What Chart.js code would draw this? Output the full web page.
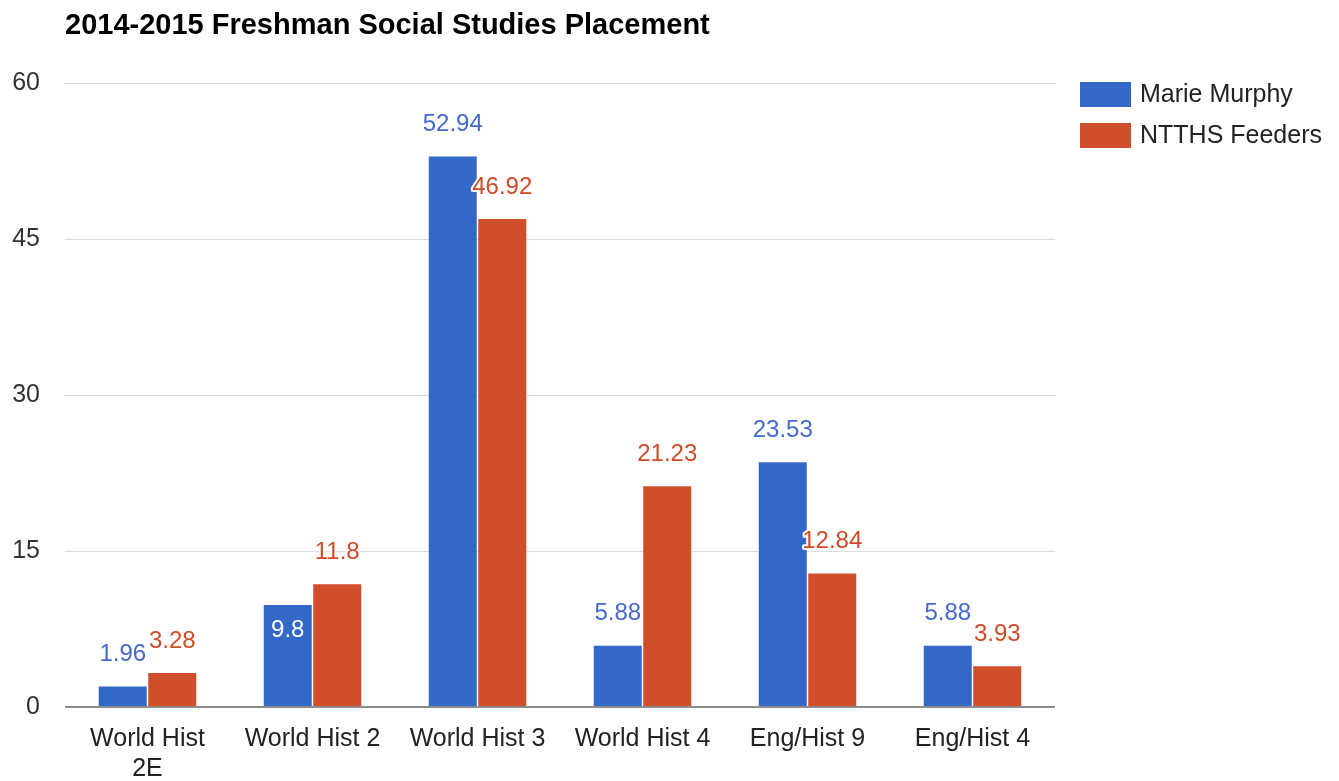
<!DOCTYPE html>
<html>
<head>
<meta charset="utf-8">
<script src="https://cdn.jsdelivr.net/npm/chart.js@4/dist/chart.umd.min.js"></script>
<style>
  html, body { margin: 0; padding: 0; background: #fff; }
  #wrap { width: 1339px; height: 781px; position: relative; }
</style>
</head>
<body>
<div id="wrap"><canvas id="placementChart"></canvas></div>
<script>
// Data
const categories = [['World Hist', '2E'], 'World Hist 2', 'World Hist 3', 'World Hist 4', 'Eng/Hist 9', 'Eng/Hist 4'];
const marieMurphy = [1.96, 9.8, 52.94, 5.88, 23.53, 5.88];
const ntthsFeeders = [3.28, 11.8, 46.92, 21.23, 12.84, 3.93];
const yTicks = [0, 15, 30, 45, 60];

const FONT = "'Liberation Sans', Arial, Helvetica, sans-serif";
const BLUE = '#3468c8';
const RED = '#cf4f2b';

// labels above bars, white halo like the original
const barLabels = {
  id: 'barLabels',
  afterDatasetsDraw(chart) {
    const ctx = chart.ctx;
    const inside = chart.options.plugins.barLabels.inside;
    ctx.save();
    ctx.font = '24px ' + FONT;
    ctx.textAlign = 'center';
    ctx.textBaseline = 'middle';
    ctx.lineJoin = 'round';
    chart.data.datasets.forEach((ds, di) => {
      chart.getDatasetMeta(di).data.forEach((bar, i) => {
        const txt = String(ds.data[i]);
        if (inside.some(p => p[0] === di && p[1] === i)) {
          ctx.fillStyle = '#fff';
          ctx.fillText(txt, bar.x, bar.y + 25);
          return;
        }
        const y = bar.y - 32;
        ctx.strokeStyle = '#fff';
        ctx.lineWidth = 4;
        ctx.strokeText(txt, bar.x, y);
        ctx.fillStyle = ds.labelColor;
        ctx.fillText(txt, bar.x, y);
      });
    });
    ctx.restore();
  }
};

// title + legend
const extras = {
  id: 'extras',
  afterDraw(chart) {
    const ctx = chart.ctx;
    ctx.save();
    ctx.fillStyle = '#000';
    ctx.font = 'bold 29px ' + FONT;
    ctx.textBaseline = 'middle';
    ctx.textAlign = 'left';
    ctx.fillText('2014-2015 Freshman Social Studies Placement', 65, 26);

    ctx.font = '25px ' + FONT;
    chart.data.datasets.forEach((ds, i) => {
      const y = 82 + i * 41;
      ctx.fillStyle = ds.backgroundColor;
      ctx.fillRect(1080, y, 51, 25);
      ctx.fillStyle = '#222';
      ctx.fillText(ds.label, 1140, y + 13);
    });
    ctx.restore();
  }
};

new Chart(document.getElementById('placementChart'), {
  type: 'bar',
  data: {
    labels: categories,
    datasets: [
      { label: 'Marie Murphy', data: marieMurphy, backgroundColor: BLUE, labelColor: '#4269d0' },
      { label: 'NTTHS Feeders', data: ntthsFeeders, backgroundColor: RED, labelColor: '#d04a28' }
    ]
  },
  options: {
    responsive: true,
    maintainAspectRatio: false,
    animation: false,
    categoryPercentage: 0.6,
    barPercentage: 0.97,
    layout: { padding: { top: 83, right: 284, bottom: 0, left: 0 } },
    plugins: {
      legend: { display: false },
      title: { display: false },
      tooltip: { enabled: false },
      barLabels: { inside: [[0, 1]] }
    },
    scales: {
      x: {
        grid: { display: false, drawTicks: false },
        border: { display: false },
        ticks: { color: '#222', font: { family: FONT, size: 25 }, padding: 17, maxRotation: 0, autoSkip: false },
        afterFit: s => { s.height = 74; }
      },
      y: {
        min: 0,
        max: 60,
        afterBuildTicks: s => { s.ticks = yTicks.map(v => ({ value: v })); },
        grid: {
          drawTicks: false,
          color: c => c.tick && c.tick.value === 0 ? '#8c8c8c' : '#dcdcdc',
          lineWidth: c => c.tick && c.tick.value === 0 ? 2 : 1
        },
        border: { display: false },
        ticks: { color: '#333', font: { family: FONT, size: 25 }, padding: 25 },
        afterFit: s => { s.width = 65; }
      }
    }
  },
  plugins: [barLabels, extras]
});
</script>
</body>
</html>
